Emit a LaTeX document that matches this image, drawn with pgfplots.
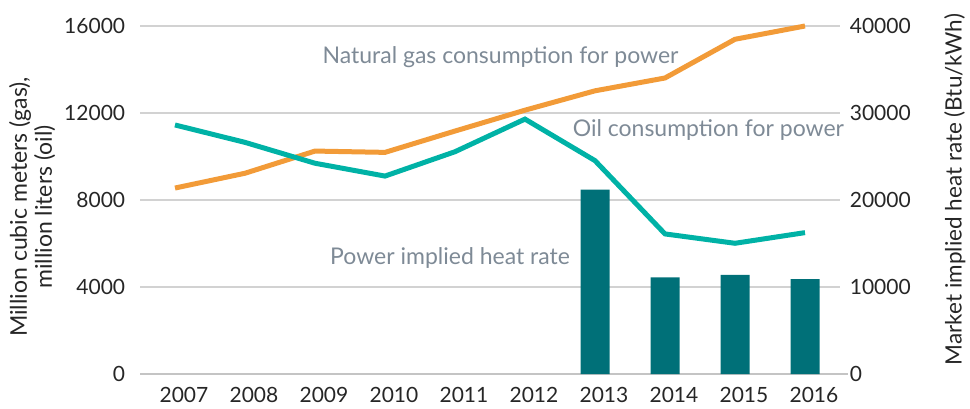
\documentclass[border=0pt]{standalone}
\usepackage{pgfplots}
\pgfplotsset{compat=1.18}
\usepackage{fontspec}
\setmainfont{Lato}
\definecolor{gasor}{HTML}{F29B38}
\definecolor{oilteal}{HTML}{00B2A6}
\definecolor{bardark}{HTML}{007078}
\definecolor{annot}{HTML}{7E8A96}
\definecolor{tickc}{HTML}{262626}
\definecolor{gridfill}{HTML}{D2D2D2}
\definecolor{basefill}{HTML}{C4C4C4}
\begin{document}
\fontsize{20}{24}\selectfont
\begin{tikzpicture}
\useasboundingbox (-140pt,-34pt) rectangle (830pt,374pt);
\fill[gridfill] (0pt,86.3pt) rectangle (700pt,87.7pt);
\fill[gridfill] (0pt,173.3pt) rectangle (700pt,174.7pt);
\fill[gridfill] (0pt,260.3pt) rectangle (700pt,261.7pt);
\fill[gridfill] (0pt,347.3pt) rectangle (700pt,348.7pt);
\fill[basefill] (0pt,-1pt) rectangle (708pt,1pt);
\begin{axis}[
  scale only axis, width=700pt, height=348pt,
  xmin=-0.5, xmax=9.5, ymin=0, ymax=16000,
  axis line style={draw=none},
  xtick={0,...,9}, xticklabels={2007,2008,2009,2010,2011,2012,2013,2014,2015,2016},
  ytick={0,4000,8000,12000,16000},
  scaled ticks=false,
  major tick length=0pt,
  /pgf/number format/1000 sep={},
  /pgf/number format/assume math mode=true,
  tick label style={font=\fontsize{21}{24}\selectfont, text=tickc},
  yticklabel style={anchor=east, xshift=-8pt},
  xticklabel style={anchor=center, yshift=-21pt, xshift=9pt},
  clip=false,
]
\addplot[gasor, line width=5pt] coordinates {
(0,8550) (1,9230) (2,10250) (3,10190) (4,11170) (5,12130) (6,13020) (7,13610) (8,15390) (9,16000)};
\addplot[oilteal, line width=5pt] coordinates {
(0,11450) (1,10650) (2,9690) (3,9100) (4,10220) (5,11720) (6,9810) (7,6440) (8,6010) (9,6500)};
\node[text=annot, font=\fontsize{23}{26}\selectfont] at (axis cs:4.65,14576) {Natural gas consumption for power};
\node[text=annot, font=\fontsize{23}{26}\selectfont] at (axis cs:7.62,11219) {Oil consumption for power};
\node[text=annot, font=\fontsize{23}{26}\selectfont] at (axis cs:3.93,5334) {Power implied heat rate};
\node[rotate=90, align=center, text=tickc, font=\fontsize{23}{25}\selectfont] at (axis description cs:-0.154,0.48) {Million cubic meters (gas),\\million liters (oil)};
\end{axis}
\begin{axis}[
  scale only axis, width=700pt, height=348pt,
  xmin=-0.5, xmax=9.5, ymin=0, ymax=40000,
  axis line style={draw=none},
  xtick=\empty,
  ytick={0,10000,20000,30000,40000},
  scaled ticks=false,
  major tick length=0pt,
  /pgf/number format/1000 sep={},
  /pgf/number format/assume math mode=true,
  yticklabel pos=right,
  tick label style={font=\fontsize{21}{24}\selectfont, text=tickc},
  yticklabel style={anchor=west, xshift=3pt},
  clip=false,
]
\addplot[ybar, bar width=29pt, fill=bardark, draw=none] coordinates {
(6,21200) (7,11100) (8,11400) (9,10900)};
\node[rotate=90, text=tickc, font=\fontsize{22.5}{24}\selectfont] at (axis description cs:1.164,0.53) {Market implied heat rate (Btu/kWh)};
\end{axis}
\end{tikzpicture}
\end{document}
